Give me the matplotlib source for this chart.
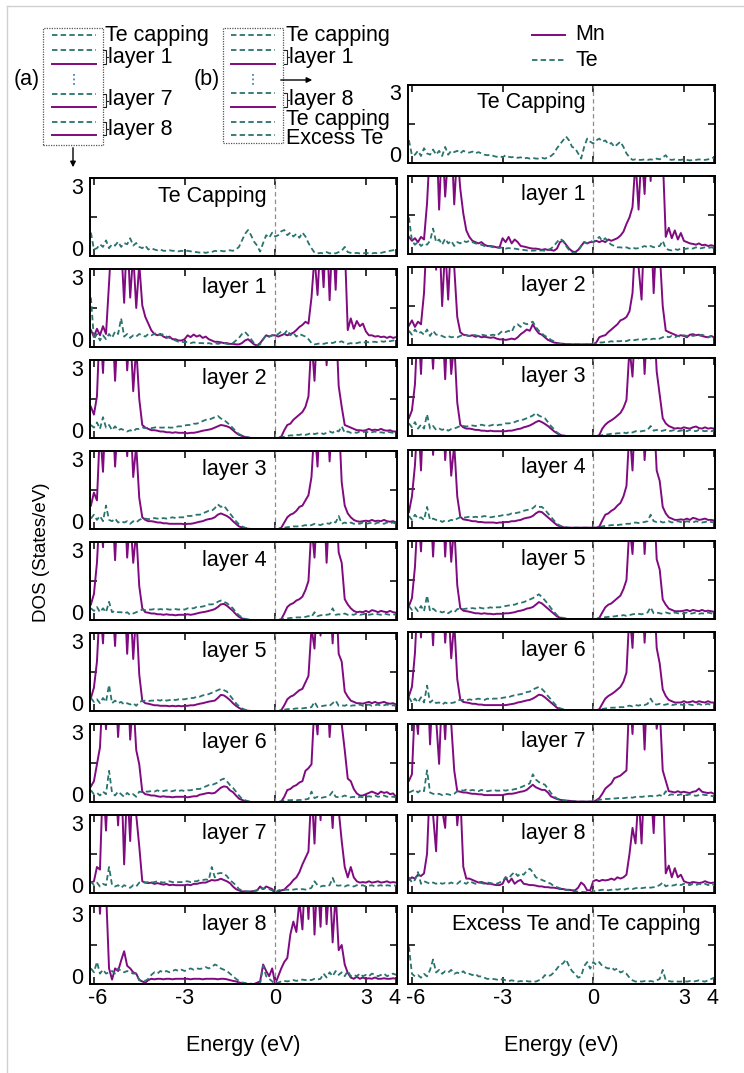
import numpy as np
import matplotlib
matplotlib.use('Agg')
import matplotlib.pyplot as plt
import matplotlib.transforms as mtransforms
from matplotlib.lines import Line2D
from matplotlib.patches import Rectangle, FancyArrowPatch

plt.rcParams['font.family'] = ['Liberation Sans', 'DejaVu Sans']

# ---------------- data (DOS on an energy grid from -6.1 to 4.0 eV, 0.1 eV step) ----------------
E_MIN, E_MAX = -6.1, 4.0
XTICKS = [-6, -3, 0, 3, 4]
XTICKLABELS = ['-6', '-3', '0', '3', '4']
YTICKS = [0, 1.5, 3]
YTICKLABELS = ['0', '', '3']

# ----- column (a) -----
TE_A0 = [0.9, 0.25, 0.3, 0.45, 0.35, 0.6, 0.3, 0.45, 0.4, 0.55,
         0.35, 0.5, 0.45, 0.68, 0.4, 0.5, 0.35, 0.3, 0.4, 0.25,
         0.3, 0.25, 0.22, 0.25, 0.2, 0.2, 0.22, 0.2, 0.2, 0.18,
         0.2, 0.18, 0.2, 0.18, 0.15, 0.15, 0.13, 0.15, 0.12, 0.15,
         0.15, 0.2, 0.18, 0.2, 0.18, 0.2, 0.22, 0.2, 0.25, 0.35,
         0.6, 0.85, 1.0, 0.8, 0.55, 0.4, 0.17, 0.5, 0.8, 0.7,
         0.9, 0.75, 0.8, 0.95, 1.0, 0.8, 0.9, 0.75, 0.85, 0.7,
         0.9, 0.75, 0.5, 0.3, 0.13, 0.1, 0.12, 0.1, 0.15, 0.1,
         0.12, 0.1, 0.15, 0.2, 0.35, 0.15, 0.12, 0.1, 0.12, 0.1,
         0.1, 0.12, 0.1, 0.1, 0.12, 0.1, 0.12, 0.15, 0.18, 0.2,
         0.22, 0.25]

MN_A1 = [0.65, 0.4, 0.7, 0.45, 0.8, 0.5, 2.45, 4.5, 3.2, 5.0,
         4.0, 1.7, 4.5, 1.9, 3.6, 1.5, 3.2, 1.6, 1.16, 0.9,
         0.64, 0.5, 0.45, 0.5, 0.4, 0.35, 0.4, 0.3, 0.3, 0.25,
         0.25, 0.3, 0.45, 0.38, 0.48, 0.4, 0.45, 0.35, 0.4, 0.3,
         0.25, 0.2, 0.2, 0.18, 0.15, 0.15, 0.12, 0.12, 0.1, 0.1,
         0.15, 0.25, 0.3, 0.2, 0.1, 0.06, 0.15, 0.3, 0.45, 0.4,
         0.45, 0.45, 0.4, 0.45, 0.5, 0.45, 0.5, 0.55, 0.65, 0.77,
         0.85, 0.97, 0.9, 1.9, 3.5, 2.0, 4.2, 2.3, 4.8, 1.8,
         4.5, 2.2, 5.0, 3.4, 4.0, 0.65, 1.1, 0.7, 1.0, 0.8,
         0.9, 0.6, 0.45, 0.45, 0.4, 0.42, 0.38, 0.4, 0.35, 0.4,
         0.35, 0.38]
TE_A1 = [1.9, 0.3, 0.5, 0.25, 0.45, 0.3, 0.5, 0.35, 0.6, 0.5,
         1.1, 0.4, 0.5, 0.35, 0.45, 0.4, 0.5, 0.45, 0.4, 0.5,
         0.45, 0.5, 0.55, 0.45, 0.5, 0.4, 0.35, 0.3, 0.25, 0.2,
         0.2, 0.18, 0.2, 0.15, 0.18, 0.15, 0.15, 0.15, 0.12, 0.15,
         0.12, 0.15, 0.12, 0.15, 0.15, 0.12, 0.1, 0.15, 0.25, 0.35,
         0.5, 0.58, 0.45, 0.3, 0.15, 0.06, 0.1, 0.3, 0.45, 0.4,
         0.45, 0.45, 0.5, 0.6, 0.5, 0.65, 0.45, 0.55, 0.4, 0.5,
         0.45, 0.4, 0.3, 0.15, 0.1, 0.12, 0.15, 0.12, 0.15, 0.18,
         0.15, 0.2, 0.18, 0.22, 0.15, 0.12, 0.15, 0.12, 0.15, 0.18,
         0.15, 0.2, 0.18, 0.2, 0.2, 0.18, 0.22, 0.2, 0.25, 0.22,
         0.25, 0.25]

MN_A2 = [1.2, 0.9, 1.6, 4.6, 2.5, 5.0, 3.3, 4.8, 2.2, 4.4,
         3.0, 5.2, 2.6, 4.2, 1.8, 3.5, 1.5, 0.5, 0.4, 0.35,
         0.3, 0.3, 0.28, 0.25, 0.25, 0.22, 0.22, 0.2, 0.22, 0.2,
         0.2, 0.2, 0.18, 0.2, 0.2, 0.22, 0.25, 0.28, 0.3, 0.32,
         0.35, 0.4, 0.45, 0.5, 0.48, 0.45, 0.4, 0.3, 0.2, 0.12,
         0.08, 0.04, 0.02, 0, 0, 0, 0, 0, 0, 0,
         0, 0, 0, 0.05, 0.3, 0.5, 0.55, 0.7, 0.8, 0.9,
         1.0, 1.2, 1.6, 3.8, 2.2, 4.5, 3.0, 5.0, 2.8, 4.6,
         3.2, 4.8, 2.0, 1.2, 0.5, 0.45, 0.4, 0.35, 0.3, 0.3,
         0.28, 0.3, 0.35, 0.3, 0.32, 0.3, 0.35, 0.3, 0.28, 0.3,
         0.25, 0.25]
TE_A2 = [0.5, 0.4, 0.6, 0.35, 0.8, 0.4, 0.5, 0.3, 0.45, 0.3,
         0.35, 0.3, 0.25, 0.3, 0.25, 0.35, 0.35, 0.4, 0.38, 0.4,
         0.38, 0.4, 0.42, 0.4, 0.4, 0.42, 0.4, 0.4, 0.42, 0.45,
         0.45, 0.48, 0.5, 0.5, 0.55, 0.55, 0.6, 0.65, 0.7, 0.7,
         0.75, 0.8, 0.85, 0.75, 0.7, 0.6, 0.5, 0.38, 0.25, 0.15,
         0.1, 0.05, 0.02, 0, 0, 0, 0, 0, 0, 0,
         0, 0, 0, 0.02, 0.05, 0.08, 0.1, 0.1, 0.12, 0.12,
         0.15, 0.12, 0.15, 0.2, 0.15, 0.18, 0.2, 0.15, 0.2, 0.25,
         0.2, 0.3, 0.25, 0.45, 0.2, 0.25, 0.2, 0.22, 0.2, 0.25,
         0.22, 0.25, 0.2, 0.22, 0.25, 0.2, 0.22, 0.2, 0.25, 0.22,
         0.2, 0.22]

MN_A3 = [0.9, 1.4, 1.1, 3.9, 2.2, 4.8, 3.6, 5.0, 2.4, 4.2,
         3.4, 5.0, 2.8, 4.6, 2.0, 3.2, 1.2, 0.45, 0.35, 0.3,
         0.3, 0.28, 0.25, 0.25, 0.22, 0.22, 0.2, 0.2, 0.2, 0.2,
         0.2, 0.18, 0.2, 0.2, 0.22, 0.25, 0.28, 0.3, 0.35, 0.38,
         0.4, 0.45, 0.55, 0.6, 0.55, 0.5, 0.42, 0.3, 0.2, 0.1,
         0.06, 0.03, 0.01, 0, 0, 0, 0, 0, 0, 0,
         0, 0, 0, 0.05, 0.25, 0.45, 0.55, 0.6, 0.7, 0.85,
         0.9, 1.1, 1.3, 2.0, 4.0, 2.4, 4.8, 3.0, 5.0, 2.6,
         4.6, 3.2, 4.4, 1.8, 0.9, 0.6, 0.45, 0.35, 0.3, 0.28,
         0.3, 0.32, 0.3, 0.35, 0.3, 0.32, 0.3, 0.35, 0.3, 0.28,
         0.3, 0.25]
TE_A3 = [0.4, 0.55, 0.35, 0.5, 0.3, 0.9, 0.35, 0.3, 0.4, 0.25,
         0.3, 0.25, 0.3, 0.2, 0.3, 0.25, 0.35, 0.4, 0.4, 0.38,
         0.4, 0.42, 0.4, 0.4, 0.42, 0.4, 0.42, 0.45, 0.42, 0.45,
         0.45, 0.45, 0.5, 0.5, 0.52, 0.55, 0.55, 0.6, 0.65, 0.7,
         0.7, 0.8, 0.95, 0.85, 0.9, 0.75, 0.6, 0.45, 0.3, 0.18,
         0.1, 0.05, 0.02, 0, 0, 0, 0, 0, 0, 0,
         0, 0, 0, 0.02, 0.05, 0.07, 0.08, 0.1, 0.1, 0.1,
         0.12, 0.15, 0.12, 0.15, 0.2, 0.18, 0.15, 0.2, 0.22, 0.2,
         0.3, 0.25, 0.5, 0.2, 0.25, 0.2, 0.25, 0.2, 0.22, 0.2,
         0.25, 0.2, 0.22, 0.25, 0.2, 0.25, 0.22, 0.2, 0.25, 0.22,
         0.25, 0.2]

MN_A4 = [0.6, 1.0, 2.2, 4.4, 2.8, 5.0, 3.0, 4.6, 2.3, 4.8,
         3.6, 5.0, 2.4, 4.0, 2.2, 3.4, 1.3, 0.45, 0.3, 0.28,
         0.25, 0.25, 0.22, 0.22, 0.2, 0.22, 0.2, 0.2, 0.18, 0.2,
         0.2, 0.2, 0.22, 0.2, 0.22, 0.25, 0.28, 0.3, 0.32, 0.35,
         0.38, 0.42, 0.5, 0.6, 0.62, 0.55, 0.45, 0.35, 0.22, 0.12,
         0.06, 0.03, 0.01, 0, 0, 0, 0, 0, 0, 0,
         0, 0, 0, 0.03, 0.25, 0.5, 0.6, 0.65, 0.75, 0.8,
         0.9, 1.15, 1.5, 3.6, 2.4, 4.6, 3.4, 5.0, 2.2, 4.4,
         3.6, 4.8, 2.6, 2.2, 0.8, 0.6, 0.45, 0.35, 0.3, 0.32,
         0.3, 0.35, 0.3, 0.38, 0.35, 0.3, 0.35, 0.32, 0.3, 0.35,
         0.3, 0.28]
TE_A4 = [0.45, 0.35, 0.5, 0.3, 0.45, 0.3, 0.7, 0.3, 0.35, 0.3,
         0.3, 0.25, 0.3, 0.2, 0.25, 0.3, 0.35, 0.4, 0.38, 0.4,
         0.4, 0.42, 0.4, 0.42, 0.4, 0.42, 0.4, 0.4, 0.42, 0.4,
         0.42, 0.4, 0.45, 0.45, 0.45, 0.5, 0.5, 0.52, 0.55, 0.6,
         0.6, 0.62, 0.7, 0.75, 0.7, 0.65, 0.55, 0.45, 0.3, 0.18,
         0.1, 0.05, 0.02, 0, 0, 0, 0, 0, 0, 0,
         0, 0, 0, 0.02, 0.05, 0.06, 0.08, 0.08, 0.1, 0.1,
         0.1, 0.12, 0.15, 0.12, 0.3, 0.15, 0.18, 0.2, 0.2, 0.22,
         0.45, 0.2, 0.22, 0.2, 0.25, 0.2, 0.22, 0.2, 0.25, 0.2,
         0.22, 0.25, 0.2, 0.22, 0.25, 0.22, 0.2, 0.25, 0.22, 0.2,
         0.22, 0.2]

MN_A5 = [0.5, 0.9, 1.9, 4.2, 2.6, 5.0, 3.6, 4.4, 2.5, 5.0,
         3.2, 4.8, 2.2, 4.4, 2.0, 3.8, 1.4, 0.4, 0.3, 0.28,
         0.25, 0.22, 0.22, 0.2, 0.2, 0.2, 0.18, 0.2, 0.18, 0.2,
         0.18, 0.2, 0.2, 0.22, 0.22, 0.25, 0.28, 0.3, 0.33, 0.36,
         0.38, 0.4, 0.5, 0.62, 0.6, 0.52, 0.42, 0.3, 0.2, 0.12,
         0.06, 0.03, 0.01, 0, 0, 0, 0, 0, 0, 0,
         0, 0, 0, 0.03, 0.22, 0.45, 0.55, 0.6, 0.7, 0.8,
         0.85, 1.1, 1.35, 3.2, 2.4, 4.8, 2.9, 5.0, 3.3, 4.6,
         2.6, 4.9, 2.2, 1.9, 0.75, 0.55, 0.4, 0.35, 0.3, 0.3,
         0.28, 0.32, 0.35, 0.3, 0.35, 0.3, 0.32, 0.35, 0.3, 0.28,
         0.3, 0.25]
TE_A5 = [0.5, 0.35, 0.45, 0.3, 0.5, 0.35, 1.0, 0.3, 0.4, 0.3,
         0.35, 0.25, 0.3, 0.25, 0.3, 0.2, 0.35, 0.38, 0.4, 0.38,
         0.4, 0.4, 0.42, 0.4, 0.45, 0.4, 0.42, 0.45, 0.42, 0.45,
         0.45, 0.45, 0.48, 0.5, 0.5, 0.55, 0.55, 0.6, 0.62, 0.65,
         0.7, 0.75, 0.8, 0.85, 0.8, 0.75, 0.6, 0.45, 0.3, 0.18,
         0.1, 0.05, 0.02, 0, 0, 0, 0, 0, 0, 0,
         0, 0, 0, 0.02, 0.05, 0.07, 0.08, 0.08, 0.1, 0.1,
         0.1, 0.12, 0.12, 0.15, 0.35, 0.15, 0.18, 0.2, 0.22, 0.2,
         0.3, 0.4, 0.2, 0.22, 0.2, 0.25, 0.2, 0.22, 0.2, 0.25,
         0.2, 0.22, 0.25, 0.2, 0.22, 0.25, 0.2, 0.22, 0.25, 0.2,
         0.22, 0.2]

MN_A6 = [0.6, 0.8, 1.45, 2.1, 4.5, 2.8, 5.0, 3.4, 4.8, 2.5,
         4.4, 3.0, 5.2, 2.4, 4.0, 2.0, 1.45, 0.4, 0.3, 0.28,
         0.25, 0.25, 0.22, 0.2, 0.22, 0.2, 0.2, 0.18, 0.2, 0.2,
         0.2, 0.2, 0.18, 0.2, 0.22, 0.22, 0.28, 0.3, 0.33, 0.35,
         0.33, 0.35, 0.45, 0.55, 0.6, 0.58, 0.45, 0.38, 0.25, 0.13,
         0.08, 0.04, 0.01, 0, 0, 0, 0, 0, 0, 0,
         0, 0, 0, 0.02, 0.2, 0.46, 0.5, 0.6, 0.65, 0.75,
         0.8, 1.2, 1.3, 1.45, 3.8, 2.6, 4.8, 3.2, 5.0, 2.5,
         4.2, 3.5, 5.0, 3.0, 2.0, 0.9, 0.8, 0.5, 0.33, 0.25,
         0.25, 0.3, 0.35, 0.4, 0.35, 0.3, 0.4, 0.35, 0.38, 0.3,
         0.33, 0.2]
TE_A6 = [0.45, 0.3, 0.35, 0.25, 0.4, 0.3, 1.2, 0.35, 0.25, 0.4,
         0.3, 0.2, 0.35, 0.25, 0.3, 0.2, 0.4, 0.38, 0.4, 0.4,
         0.42, 0.4, 0.45, 0.4, 0.42, 0.45, 0.4, 0.42, 0.45, 0.42,
         0.45, 0.42, 0.45, 0.45, 0.48, 0.5, 0.5, 0.55, 0.6, 0.65,
         0.65, 0.7, 0.75, 0.85, 0.9, 0.8, 0.65, 0.55, 0.4, 0.25,
         0.12, 0.07, 0.03, 0.01, 0, 0, 0, 0, 0, 0,
         0, 0, 0, 0.02, 0.05, 0.07, 0.07, 0.08, 0.07, 0.08,
         0.07, 0.1, 0.12, 0.4, 0.15, 0.2, 0.15, 0.18, 0.2, 0.25,
         0.4, 0.2, 0.18, 0.2, 0.25, 0.2, 0.18, 0.2, 0.15, 0.2,
         0.18, 0.2, 0.22, 0.2, 0.25, 0.2, 0.22, 0.25, 0.2, 0.22,
         0.2, 0.18]

MN_A7 = [0.4, 0.45, 1.0, 0.9, 4.5, 2.4, 5.0, 3.2, 4.6, 2.6,
         4.8, 1.1, 4.2, 2.0, 5.0, 3.0, 1.8, 0.45, 0.4, 0.38,
         0.4, 0.35, 0.38, 0.35, 0.32, 0.35, 0.3, 0.32, 0.3, 0.3,
         0.3, 0.3, 0.32, 0.3, 0.35, 0.35, 0.38, 0.4, 0.4, 0.45,
         0.5, 0.48, 0.5, 0.55, 0.5, 0.45, 0.38, 0.25, 0.15, 0.1,
         0.06, 0.06, 0.05, 0.06, 0.08, 0.1, 0.25, 0.15, 0.25, 0.2,
         0.15, 0, 0.05, 0.1, 0.13, 0.25, 0.35, 0.5, 0.6, 0.8,
         1.1, 1.35, 1.6, 4.0, 1.9, 4.6, 2.8, 5.0, 3.0, 4.2,
         2.5, 4.8, 3.2, 2.0, 1.0, 0.6, 1.0, 0.6, 0.45, 0.4,
         0.42, 0.4, 0.45, 0.4, 0.42, 0.45, 0.4, 0.42, 0.45, 0.4,
         0.42, 0.4]
TE_A7 = [0.45, 0.3, 0.4, 0.25, 0.35, 0.3, 1.0, 0.3, 0.25, 0.3,
         0.2, 0.3, 0.25, 0.2, 0.3, 0.25, 0.4, 0.42, 0.4, 0.42,
         0.4, 0.42, 0.45, 0.42, 0.4, 0.42, 0.45, 0.42, 0.4, 0.42,
         0.42, 0.45, 0.45, 0.42, 0.45, 0.45, 0.5, 0.5, 0.52, 0.5,
         1.0, 0.6, 0.75, 0.77, 0.75, 0.65, 0.5, 0.4, 0.3, 0.15,
         0.1, 0.07, 0.06, 0.06, 0.08, 0.1, 0.2, 0.15, 0.2, 0.15,
         0.1, 0, 0.1, 0.13, 0.12, 0.13, 0.12, 0.13, 0.15, 0.13,
         0.15, 0.13, 0.15, 0.2, 0.45, 0.3, 0.25, 0.28, 0.25, 0.3,
         0.58, 0.3, 0.28, 0.3, 0.25, 0.3, 0.28, 0.25, 0.3, 0.28,
         0.3, 0.25, 0.28, 0.3, 0.25, 0.28, 0.3, 0.25, 0.3, 0.28,
         0.3, 0.28]

MN_A8 = [4.5, 3.5, 5.0, 2.7, 4.8, 3.6, 0.6, 0.17, 0.6, 0.5,
         0.9, 1.26, 0.7, 0.6, 0.45, 0.4, 0.15, 0.1, 0.05, 0.15,
         0.2, 0.18, 0.2, 0.2, 0.18, 0.2, 0.2, 0.18, 0.2, 0.2,
         0.2, 0.2, 0.2, 0.18, 0.2, 0.2, 0.2, 0.18, 0.2, 0.2,
         0.2, 0.2, 0.18, 0.2, 0.2, 0.18, 0.15, 0.12, 0.1, 0.06,
         0.03, 0.01, 0, 0, 0, 0.05, 0.1, 0.75, 0.5, 0.3,
         0.6, 0, 0.3, 0.6, 0.85, 1.0, 1.9, 2.4, 2.0, 3.2,
         2.1, 4.5, 2.5, 5.0, 1.9, 4.2, 2.2, 5.0, 2.3, 4.0,
         1.6, 3.5, 1.3, 1.5, 0.75, 0.43, 0.25, 0.2, 0.28, 0.2,
         0.25, 0.2, 0.22, 0.2, 0.25, 0.2, 0.2, 0.22, 0.2, 0.2,
         0.22, 0.2]
TE_A8 = [0.6, 0.45, 0.85, 0.4, 0.55, 0.4, 0.45, 0.5, 0.4, 0.6,
         0.5, 0.45, 0.5, 0.45, 0.4, 0.4, 0.15, 0.15, 0.12, 0.2,
         0.35, 0.45, 0.4, 0.5, 0.45, 0.5, 0.45, 0.5, 0.55, 0.5,
         0.55, 0.5, 0.55, 0.6, 0.55, 0.6, 0.58, 0.6, 0.65, 0.6,
         0.65, 0.75, 0.7, 0.6, 0.55, 0.5, 0.4, 0.3, 0.2, 0.12,
         0.06, 0.04, 0.02, 0.01, 0, 0, 0.02, 0.7, 0.3, 0.2,
         0.1, 0, 0.05, 0.1, 0.12, 0.1, 0.12, 0.15, 0.12, 0.15,
         0.17, 0.15, 0.17, 0.15, 0.2, 0.17, 0.2, 0.4, 0.25, 0.45,
         0.3, 0.5, 0.35, 0.45, 0.3, 0.5, 0.3, 0.35, 0.3, 0.4,
         0.3, 0.35, 0.3, 0.4, 0.35, 0.3, 0.35, 0.4, 0.3, 0.35,
         0.4, 0.35]

# ----- column (b) -----
TE_B0 = [0.86, 0.28, 0.3, 0.45, 0.25, 0.55, 0.35, 0.3, 0.5, 0.3,
         0.45, 0.25, 0.6, 0.3, 0.45, 0.4, 0.45, 0.35, 0.45, 0.4,
         0.38, 0.42, 0.35, 0.4, 0.35, 0.3, 0.28, 0.3, 0.25, 0.22,
         0.25, 0.2, 0.28, 0.22, 0.2, 0.22, 0.18, 0.2, 0.15, 0.18,
         0.15, 0.18, 0.15, 0.15, 0.18, 0.15, 0.2, 0.25, 0.35, 0.55,
         0.7, 0.85, 1.0, 0.85, 0.6, 0.55, 0.35, 0.15, 0.6, 0.92,
         0.8, 0.73, 0.85, 0.92, 0.8, 0.85, 0.7, 0.75, 0.6, 0.7,
         0.8, 0.6, 0.35, 0.2, 0.1, 0.12, 0.1, 0.1, 0.12, 0.1,
         0.12, 0.1, 0.15, 0.12, 0.2, 0.28, 0.12, 0.1, 0.12, 0.1,
         0.1, 0.12, 0.1, 0.08, 0.1, 0.1, 0.12, 0.1, 0.1, 0.12,
         0.15, 0.2]

MN_B1 = [0.65, 0.5, 0.6, 0.45, 0.65, 0.55, 1.94, 4.2, 3.0, 5.0,
         1.7, 4.5, 2.2, 3.8, 4.6, 1.9, 4.0, 2.5, 1.55, 0.9,
         0.65, 0.5, 0.45, 0.4, 0.45, 0.35, 0.3, 0.3, 0.28, 0.25,
         0.25, 0.6, 0.45, 0.65, 0.4, 0.55, 0.45, 0.3, 0.28, 0.25,
         0.22, 0.2, 0.2, 0.18, 0.15, 0.18, 0.15, 0.15, 0.12, 0.2,
         0.45, 0.5, 0.35, 0.2, 0.1, 0.06, 0.15, 0.3, 0.45, 0.4,
         0.45, 0.45, 0.5, 0.45, 0.5, 0.45, 0.55, 0.5, 0.55, 0.6,
         0.7, 0.85, 1.15, 1.4, 1.8, 3.6, 1.7, 4.0, 2.3, 4.8,
         2.8, 5.0, 3.2, 4.5, 3.8, 0.65, 1.0, 0.6, 0.9, 0.55,
         0.8, 0.5, 0.45, 0.4, 0.38, 0.35, 0.4, 0.33, 0.35, 0.3,
         0.33, 0.3]
TE_B1 = [1.4, 0.5, 0.35, 0.45, 0.3, 0.4, 0.35, 0.5, 0.97, 0.45,
         0.55, 0.35, 0.58, 0.4, 0.5, 0.3, 0.45, 0.4, 0.5, 0.45,
         0.5, 0.45, 0.4, 0.38, 0.35, 0.3, 0.3, 0.28, 0.25, 0.25,
         0.22, 0.25, 0.2, 0.22, 0.2, 0.2, 0.18, 0.15, 0.15, 0.13,
         0.13, 0.12, 0.13, 0.12, 0.13, 0.12, 0.15, 0.2, 0.3, 0.45,
         0.58, 0.5, 0.3, 0.15, 0.05, 0.02, 0.1, 0.3, 0.45, 0.4,
         0.5, 0.45, 0.55, 0.65, 0.5, 0.6, 0.45, 0.35, 0.3, 0.25,
         0.25, 0.22, 0.25, 0.2, 0.25, 0.2, 0.22, 0.25, 0.3, 0.25,
         0.3, 0.25, 0.28, 0.3, 0.5, 0.2, 0.15, 0.13, 0.18, 0.15,
         0.2, 0.18, 0.2, 0.22, 0.2, 0.25, 0.2, 0.22, 0.25, 0.22,
         0.25, 0.22]

MN_B2 = [0.75, 0.95, 0.7, 0.9, 0.8, 2.0, 4.5, 3.2, 5.0, 2.9,
         4.6, 1.5, 3.8, 1.75, 4.2, 3.0, 1.08, 0.5, 0.4, 0.38,
         0.35, 0.38, 0.32, 0.35, 0.3, 0.32, 0.3, 0.28, 0.3, 0.25,
         0.22, 0.22, 0.2, 0.22, 0.25, 0.22, 0.3, 0.42, 0.5, 0.6,
         0.55, 0.8, 0.6, 0.45, 0.4, 0.3, 0.2, 0.15, 0.1, 0.08,
         0.06, 0.05, 0.04, 0.04, 0.03, 0.03, 0.03, 0.03, 0.02, 0.03,
         0.03, 0.03, 0.1, 0.3, 0.35, 0.38, 0.5, 0.6, 0.7, 0.8,
         0.95, 1.0, 1.08, 1.3, 2.0, 4.2, 3.0, 1.75, 4.8, 3.5,
         5.0, 2.0, 4.4, 3.6, 1.5, 0.56, 0.5, 0.45, 0.4, 0.35,
         0.38, 0.35, 0.3, 0.4, 0.42, 0.38, 0.4, 0.35, 0.32, 0.3,
         0.35, 0.3]
TE_B2 = [0.55, 0.4, 0.6, 0.45, 0.5, 0.4, 0.6, 0.35, 0.55, 0.4,
         0.4, 0.35, 0.3, 0.35, 0.3, 0.32, 0.3, 0.35, 0.4, 0.38,
         0.35, 0.4, 0.38, 0.35, 0.4, 0.38, 0.35, 0.38, 0.4, 0.35,
         0.45, 0.55, 0.5, 0.55, 0.5, 0.75, 0.8, 0.7, 0.85, 0.8,
         0.85, 0.9, 0.7, 0.55, 0.45, 0.35, 0.3, 0.2, 0.15, 0.08,
         0.05, 0.05, 0.04, 0.04, 0.03, 0.03, 0.03, 0.03, 0.03, 0.03,
         0.03, 0.03, 0.08, 0.1, 0.1, 0.12, 0.12, 0.15, 0.12, 0.15,
         0.15, 0.18, 0.15, 0.2, 0.18, 0.2, 0.22, 0.2, 0.22, 0.25,
         0.22, 0.25, 0.22, 0.25, 0.3, 0.35, 0.3, 0.35, 0.3, 0.35,
         0.32, 0.38, 0.35, 0.4, 0.35, 0.38, 0.35, 0.4, 0.35, 0.3,
         0.35, 0.3]

MN_B3 = [0.7, 1.0, 2.0, 4.6, 2.4, 5.0, 3.4, 4.4, 2.6, 5.0,
         3.0, 4.6, 2.2, 4.8, 2.4, 3.6, 1.3, 0.45, 0.35, 0.3,
         0.3, 0.28, 0.25, 0.25, 0.22, 0.22, 0.2, 0.22, 0.2, 0.2,
         0.2, 0.2, 0.2, 0.22, 0.22, 0.25, 0.28, 0.3, 0.35, 0.38,
         0.42, 0.48, 0.55, 0.6, 0.55, 0.48, 0.4, 0.3, 0.2, 0.12,
         0.06, 0.03, 0.01, 0, 0, 0, 0, 0, 0, 0,
         0, 0, 0, 0.05, 0.3, 0.45, 0.55, 0.62, 0.7, 0.8,
         0.9, 1.1, 1.4, 3.4, 2.3, 4.6, 3.0, 5.0, 2.4, 4.5,
         3.0, 4.8, 2.5, 1.6, 0.7, 0.5, 0.4, 0.35, 0.3, 0.32,
         0.3, 0.35, 0.32, 0.3, 0.35, 0.38, 0.32, 0.3, 0.35, 0.3,
         0.32, 0.3]
TE_B3 = [0.5, 0.35, 0.55, 0.3, 0.45, 0.3, 0.85, 0.3, 0.4, 0.25,
         0.3, 0.25, 0.3, 0.22, 0.28, 0.3, 0.35, 0.4, 0.4, 0.38,
         0.4, 0.42, 0.4, 0.42, 0.45, 0.42, 0.4, 0.42, 0.45, 0.42,
         0.45, 0.45, 0.5, 0.5, 0.52, 0.55, 0.6, 0.62, 0.65, 0.7,
         0.75, 0.8, 0.9, 0.8, 0.75, 0.7, 0.55, 0.4, 0.28, 0.15,
         0.08, 0.04, 0.02, 0, 0, 0, 0, 0, 0, 0,
         0, 0, 0, 0.02, 0.05, 0.07, 0.08, 0.1, 0.1, 0.12,
         0.12, 0.15, 0.12, 0.18, 0.15, 0.2, 0.18, 0.2, 0.22, 0.25,
         0.4, 0.22, 0.25, 0.2, 0.22, 0.25, 0.2, 0.22, 0.25, 0.2,
         0.22, 0.25, 0.2, 0.25, 0.22, 0.2, 0.25, 0.22, 0.2, 0.22,
         0.2, 0.22]

MN_B4 = [0.6, 1.2, 2.4, 4.4, 2.2, 5.0, 3.2, 4.6, 2.8, 4.8,
         3.4, 5.0, 2.6, 4.2, 2.0, 3.2, 1.2, 0.42, 0.32, 0.3,
         0.28, 0.25, 0.25, 0.22, 0.22, 0.2, 0.2, 0.2, 0.2, 0.18,
         0.2, 0.2, 0.22, 0.22, 0.25, 0.25, 0.28, 0.3, 0.35, 0.38,
         0.4, 0.45, 0.55, 0.62, 0.6, 0.5, 0.4, 0.3, 0.2, 0.1,
         0.05, 0.02, 0, 0, 0, 0, 0, 0, 0, 0,
         0, 0, 0, 0.04, 0.28, 0.5, 0.55, 0.65, 0.72, 0.85,
         0.95, 1.2, 1.6, 3.8, 2.2, 4.8, 3.2, 5.0, 2.6, 4.2,
         3.4, 4.6, 2.2, 1.8, 0.8, 0.55, 0.4, 0.35, 0.3, 0.3,
         0.32, 0.3, 0.35, 0.3, 0.38, 0.35, 0.3, 0.32, 0.35, 0.3,
         0.3, 0.28]
TE_B4 = [0.45, 0.3, 0.5, 0.35, 0.4, 0.3, 0.8, 0.3, 0.35, 0.3,
         0.3, 0.22, 0.28, 0.25, 0.3, 0.28, 0.35, 0.4, 0.38, 0.4,
         0.42, 0.4, 0.42, 0.4, 0.42, 0.45, 0.42, 0.4, 0.42, 0.45,
         0.45, 0.48, 0.5, 0.5, 0.55, 0.55, 0.58, 0.6, 0.65, 0.68,
         0.7, 0.75, 0.85, 0.8, 0.8, 0.7, 0.55, 0.42, 0.28, 0.15,
         0.08, 0.04, 0.02, 0, 0, 0, 0, 0, 0, 0,
         0, 0, 0, 0.02, 0.05, 0.07, 0.08, 0.1, 0.1, 0.1,
         0.12, 0.12, 0.15, 0.15, 0.18, 0.2, 0.18, 0.2, 0.22, 0.25,
         0.5, 0.25, 0.22, 0.25, 0.2, 0.22, 0.25, 0.2, 0.22, 0.25,
         0.22, 0.2, 0.25, 0.22, 0.2, 0.25, 0.22, 0.2, 0.22, 0.25,
         0.22, 0.2]

MN_B5 = [0.5, 0.8, 2.0, 4.2, 2.6, 5.0, 3.8, 4.8, 2.4, 4.6,
         3.0, 5.0, 2.4, 4.4, 2.2, 3.6, 1.3, 0.42, 0.32, 0.3,
         0.28, 0.25, 0.22, 0.22, 0.2, 0.22, 0.2, 0.2, 0.18, 0.2,
         0.2, 0.2, 0.22, 0.22, 0.24, 0.26, 0.3, 0.32, 0.35, 0.4,
         0.42, 0.46, 0.55, 0.65, 0.6, 0.5, 0.4, 0.3, 0.2, 0.1,
         0.05, 0.02, 0, 0, 0, 0, 0, 0, 0, 0,
         0, 0, 0, 0.04, 0.25, 0.45, 0.55, 0.6, 0.7, 0.8,
         0.9, 1.15, 1.5, 3.6, 2.5, 4.6, 3.3, 5.0, 2.5, 4.4,
         3.2, 4.8, 2.3, 1.9, 0.75, 0.55, 0.4, 0.35, 0.3, 0.3,
         0.3, 0.32, 0.35, 0.3, 0.35, 0.32, 0.3, 0.35, 0.3, 0.32,
         0.3, 0.28]
TE_B5 = [0.5, 0.35, 0.45, 0.3, 0.5, 0.3, 0.9, 0.3, 0.4, 0.3,
         0.3, 0.25, 0.3, 0.22, 0.3, 0.25, 0.38, 0.4, 0.38, 0.4,
         0.4, 0.42, 0.4, 0.45, 0.42, 0.4, 0.42, 0.45, 0.42, 0.45,
         0.45, 0.48, 0.5, 0.52, 0.55, 0.55, 0.6, 0.62, 0.65, 0.7,
         0.75, 0.8, 0.88, 0.95, 0.85, 0.72, 0.58, 0.42, 0.28, 0.15,
         0.08, 0.04, 0.02, 0, 0, 0, 0, 0, 0, 0,
         0, 0, 0, 0.02, 0.05, 0.07, 0.08, 0.1, 0.1, 0.12,
         0.12, 0.15, 0.12, 0.15, 0.18, 0.2, 0.2, 0.18, 0.22, 0.25,
         0.45, 0.22, 0.25, 0.22, 0.2, 0.25, 0.22, 0.2, 0.25, 0.22,
         0.2, 0.22, 0.25, 0.2, 0.22, 0.25, 0.2, 0.22, 0.2, 0.25,
         0.22, 0.2]

MN_B6 = [0.55, 0.9, 2.2, 4.6, 2.8, 5.0, 3.0, 4.6, 2.5, 5.0,
         3.2, 4.8, 2.6, 4.2, 2.0, 3.4, 1.2, 0.42, 0.32, 0.3,
         0.28, 0.25, 0.25, 0.22, 0.22, 0.2, 0.2, 0.2, 0.2, 0.2,
         0.2, 0.2, 0.2, 0.22, 0.24, 0.26, 0.3, 0.32, 0.35, 0.38,
         0.4, 0.45, 0.52, 0.6, 0.58, 0.5, 0.4, 0.3, 0.2, 0.1,
         0.05, 0.02, 0, 0, 0, 0, 0, 0, 0, 0,
         0, 0, 0, 0.04, 0.25, 0.45, 0.55, 0.62, 0.7, 0.8,
         0.9, 1.1, 1.45, 3.8, 2.4, 4.8, 3.0, 5.0, 2.6, 4.5,
         3.0, 4.9, 2.4, 1.8, 0.8, 0.55, 0.4, 0.35, 0.3, 0.3,
         0.3, 0.35, 0.3, 0.32, 0.35, 0.3, 0.35, 0.32, 0.3, 0.35,
         0.3, 0.3]
TE_B6 = [0.5, 0.3, 0.45, 0.3, 0.5, 0.3, 0.95, 0.3, 0.4, 0.28,
         0.3, 0.22, 0.3, 0.25, 0.28, 0.3, 0.38, 0.4, 0.4, 0.38,
         0.42, 0.4, 0.42, 0.45, 0.42, 0.4, 0.45, 0.42, 0.45, 0.45,
         0.45, 0.48, 0.5, 0.5, 0.55, 0.58, 0.6, 0.62, 0.65, 0.7,
         0.72, 0.8, 0.85, 0.9, 0.82, 0.7, 0.55, 0.42, 0.28, 0.15,
         0.08, 0.04, 0.02, 0, 0, 0, 0, 0, 0, 0,
         0, 0, 0, 0.02, 0.05, 0.07, 0.08, 0.1, 0.1, 0.12,
         0.12, 0.12, 0.15, 0.18, 0.15, 0.2, 0.18, 0.22, 0.2, 0.25,
         0.45, 0.25, 0.22, 0.25, 0.2, 0.22, 0.25, 0.2, 0.22, 0.25,
         0.22, 0.2, 0.25, 0.22, 0.2, 0.22, 0.25, 0.2, 0.22, 0.25,
         0.2, 0.22]

MN_B7 = [0.8, 1.05, 3.8, 2.6, 4.8, 3.0, 5.0, 2.2, 4.6, 3.2,
         1.45, 4.4, 2.4, 4.8, 3.0, 1.2, 0.4, 0.38, 0.35, 0.35,
         0.32, 0.3, 0.3, 0.28, 0.28, 0.25, 0.25, 0.25, 0.25, 0.25,
         0.25, 0.25, 0.28, 0.3, 0.3, 0.32, 0.35, 0.38, 0.4, 0.45,
         0.55, 0.65, 0.55, 0.5, 0.45, 0.45, 0.35, 0.2, 0.15, 0.1,
         0.07, 0.05, 0.04, 0.03, 0.02, 0.01, 0, 0, 0, 0,
         0, 0, 0.05, 0.13, 0.3, 0.5, 0.6, 0.7, 0.9, 0.95,
         1.0, 1.1, 1.2, 4.2, 2.6, 5.0, 3.0, 4.6, 2.0, 4.8,
         3.0, 4.4, 2.8, 3.6, 1.2, 0.8, 0.4, 0.38, 0.35, 0.4,
         0.35, 0.38, 0.35, 0.33, 0.38, 0.4, 0.5, 0.38, 0.35, 0.33,
         0.35, 0.3]
TE_B7 = [0.35, 0.4, 0.46, 0.35, 0.45, 0.4, 1.2, 0.35, 0.3, 0.28,
         0.3, 0.25, 0.3, 0.28, 0.25, 0.3, 0.4, 0.45, 0.42, 0.46,
         0.42, 0.45, 0.42, 0.4, 0.45, 0.42, 0.4, 0.42, 0.45, 0.42,
         0.42, 0.45, 0.42, 0.45, 0.45, 0.48, 0.5, 0.55, 0.6, 0.65,
         0.7, 1.05, 0.85, 0.75, 0.7, 0.65, 0.5, 0.33, 0.2, 0.12,
         0.08, 0.05, 0.03, 0.02, 0.01, 0, 0, 0, 0, 0,
         0, 0, 0.03, 0.07, 0.08, 0.1, 0.1, 0.12, 0.12, 0.13,
         0.15, 0.13, 0.15, 0.17, 0.15, 0.18, 0.2, 0.18, 0.2, 0.2,
         0.22, 0.2, 0.22, 0.25, 0.2, 0.4, 0.25, 0.28, 0.25, 0.25,
         0.28, 0.25, 0.25, 0.28, 0.25, 0.22, 0.25, 0.28, 0.25, 0.25,
         0.22, 0.2]

MN_B8 = [0.5, 0.6, 0.55, 0.7, 0.65, 0.75, 1.5, 4.4, 3.0, 1.6,
         4.8, 3.2, 2.5, 5.0, 3.6, 4.6, 2.6, 3.8, 1.0, 0.55,
         0.55, 0.5, 0.45, 0.4, 0.42, 0.38, 0.35, 0.35, 0.32, 0.3,
         0.3, 0.35, 0.6, 0.4, 0.55, 0.35, 0.45, 0.5, 0.35, 0.33,
         0.3, 0.3, 0.28, 0.25, 0.25, 0.22, 0.22, 0.2, 0.2, 0.18,
         0.15, 0.15, 0.12, 0.12, 0.1, 0.1, 0.2, 0.4, 0.3, 0.1,
         0.1, 0.45, 0.5, 0.45, 0.5, 0.48, 0.5, 0.55, 0.5, 0.6,
         0.55, 0.6, 0.7, 1.5, 2.5, 1.9, 3.8, 1.9, 4.6, 3.0,
         4.2, 2.3, 5.0, 3.4, 4.5, 0.75, 1.05, 0.6, 0.95, 0.6,
         0.7, 0.45, 0.4, 0.38, 0.42, 0.4, 0.38, 0.4, 0.45, 0.4,
         0.38, 0.4]
TE_B8 = [0.6, 0.4, 0.5, 0.8, 0.35, 0.45, 0.4, 0.35, 0.4, 0.35,
         0.4, 0.35, 0.38, 0.35, 0.4, 0.35, 0.35, 0.45, 0.4, 0.35,
         0.45, 0.4, 0.35, 0.4, 0.38, 0.35, 0.4, 0.38, 0.35, 0.35,
         0.4, 0.45, 0.6, 0.55, 0.7, 0.8, 0.65, 0.75, 0.7, 0.85,
         0.93, 0.8, 0.6, 0.55, 0.5, 0.45, 0.4, 0.35, 0.25, 0.22,
         0.18, 0.15, 0.12, 0.1, 0.08, 0.06, 0.05, 0.04, 0.03, 0.03,
         0.03, 0.05, 0.1, 0.1, 0.12, 0.12, 0.1, 0.12, 0.15, 0.12,
         0.15, 0.12, 0.15, 0.18, 0.15, 0.18, 0.2, 0.18, 0.2, 0.22,
         0.2, 0.22, 0.25, 0.3, 0.4, 0.25, 0.3, 0.28, 0.3, 0.35,
         0.3, 0.35, 0.32, 0.3, 0.35, 0.3, 0.35, 0.32, 0.35, 0.3,
         0.35, 0.3]

TE_B9 = [1.45, 0.4, 0.3, 0.35, 0.25, 0.4, 0.3, 0.55, 0.95, 0.45,
         0.55, 0.4, 0.5, 0.45, 0.55, 0.4, 0.45, 0.4, 0.5, 0.38,
         0.4, 0.35, 0.4, 0.3, 0.3, 0.25, 0.2, 0.22, 0.2, 0.18,
         0.15, 0.2, 0.15, 0.12, 0.15, 0.12, 0.1, 0.12, 0.1, 0.12,
         0.1, 0.12, 0.1, 0.15, 0.2, 0.35, 0.3, 0.35, 0.45, 0.6,
         0.75, 0.8, 0.95, 0.7, 0.5, 0.4, 0.25, 0.3, 0.7, 0.85,
         0.6, 0.85, 0.75, 0.85, 0.7, 0.65, 0.6, 0.65, 0.55, 0.6,
         0.45, 0.5, 0.4, 0.25, 0.15, 0.1, 0.12, 0.1, 0.12, 0.1,
         0.12, 0.1, 0.15, 0.2, 0.55, 0.15, 0.12, 0.1, 0.12, 0.1,
         0.1, 0.12, 0.1, 0.12, 0.1, 0.12, 0.15, 0.12, 0.1, 0.15,
         0.2, 0.25]

LEFT_TITLES = ['Te Capping', 'layer 1', 'layer 2', 'layer 3', 'layer 4',
               'layer 5', 'layer 6', 'layer 7', 'layer 8']
RIGHT_TITLES = ['Te Capping', 'layer 1', 'layer 2', 'layer 3', 'layer 4',
                'layer 5', 'layer 6', 'layer 7', 'layer 8',
                'Excess Te and Te capping']
LEFT_MN = [None, MN_A1, MN_A2, MN_A3, MN_A4, MN_A5, MN_A6, MN_A7, MN_A8]
LEFT_TE = [TE_A0, TE_A1, TE_A2, TE_A3, TE_A4, TE_A5, TE_A6, TE_A7, TE_A8]
RIGHT_MN = [None, MN_B1, MN_B2, MN_B3, MN_B4, MN_B5, MN_B6, MN_B7, MN_B8, None]
RIGHT_TE = [TE_B0, TE_B1, TE_B2, TE_B3, TE_B4, TE_B5, TE_B6, TE_B7, TE_B8, TE_B9]

# ---------------- style ----------------
MN_COLOR = '#800a80'
TE_COLOR = '#2a746e'
TE_DASH = (0, (3.0, 1.8))
FS = 15.5

W, H = 744, 1073
fig = plt.figure(figsize=(W / 100, H / 100), dpi=100)


def fx(x):
    return x / W


def fy(y):
    return 1 - y / H


def px_axes(x0, y0, w, h):
    return fig.add_axes([x0 / W, 1 - (y0 + h) / H, w / W, h / H])


def draw_panel(ax, mn, te, title, show_y, show_x, title_x):
    if mn is not None:
        e = np.linspace(E_MIN, E_MAX, len(mn))
        ax.plot(e, mn, color=MN_COLOR, lw=1.4)
    e = np.linspace(E_MIN, E_MAX, len(te))
    ax.plot(e, te, color=TE_COLOR, lw=1.3, ls=TE_DASH)
    ax.axvline(0, color='#8c8c8c', lw=0.9, ls=(0, (3.5, 2.5)))
    ax.set_xlim(-6.13, 4.03)
    ax.set_ylim(0, 3)
    ax.set_xticks(XTICKS)
    ax.set_yticks(YTICKS)
    ax.tick_params(direction='in', top=True, right=True, length=5, width=1.1,
                   labelsize=FS)
    ax.tick_params(axis='y', pad=5)
    ax.tick_params(axis='x', pad=3)
    if show_y:
        labs = ax.set_yticklabels(YTICKLABELS)
        labs[0].set_va('baseline')
        labs[2].set_va('top')
    else:
        ax.tick_params(labelleft=False)
    if show_x:
        labs = ax.set_xticklabels(XTICKLABELS)
        shift_r = mtransforms.ScaledTranslation(4 / 100, 0, fig.dpi_scale_trans)
        shift_l = mtransforms.ScaledTranslation(-2 / 100, 0, fig.dpi_scale_trans)
        labs[0].set_transform(labs[0].get_transform() + shift_r)
        labs[-1].set_transform(labs[-1].get_transform() + shift_l)
    else:
        ax.tick_params(labelbottom=False)
    for s in ax.spines.values():
        s.set_linewidth(1.4)
    ax.text(title_x, 2.7, title, ha='right', va='top', fontsize=FS)


AXW, AXH = 307, 78
for k in range(9):
    ax = px_axes(90, 178 + 91.0 * k, AXW, AXH)
    draw_panel(ax, LEFT_MN[k], LEFT_TE[k], LEFT_TITLES[k], True, k == 8, -0.3)
for k in range(10):
    ax = px_axes(408, 84.5 + 91.3 * k, AXW, AXH)
    tx = 3.55 if k == 9 else -0.25
    draw_panel(ax, RIGHT_MN[k], RIGHT_TE[k], RIGHT_TITLES[k], k == 0, k == 9, tx)

# axis labels
fig.text(fx(41), fy(552), 'DOS (States/eV)', rotation=90, ha='center', va='center', fontsize=13.5)
fig.text(fx(243), fy(1045), 'Energy (eV)', ha='center', va='center', fontsize=FS)
fig.text(fx(561), fy(1045), 'Energy (eV)', ha='center', va='center', fontsize=FS)

# light image frame
fig.add_artist(Line2D([fx(7), fx(744)], [fy(6), fy(6)], color='#d0d0d0', lw=1.0))
fig.add_artist(Line2D([fx(7), fx(7)], [fy(6), fy(1073)], color='#d0d0d0', lw=1.0))

# top legend
fig.add_artist(Line2D([fx(532), fx(565)], [fy(35), fy(35)], color=MN_COLOR, lw=1.4))
fig.add_artist(Line2D([fx(532), fx(565)], [fy(60), fy(60)], color=TE_COLOR, lw=1.3, ls=TE_DASH))
fig.text(fx(575), fy(35), 'Mn', ha='left', va='center', fontsize=FS)
fig.text(fx(575), fy(60), 'Te', ha='left', va='center', fontsize=FS)


def brace(x, y0, y1):
    xs = [fx(x), fx(x + 3), fx(x + 3), fx(x)]
    ys = [fy(y0), fy(y0), fy(y1), fy(y1)]
    fig.add_artist(Line2D(xs, ys, color='#222222', lw=0.8))
    ym = (y0 + y1) / 2
    fig.add_artist(Line2D([fx(x + 3), fx(x + 5)], [fy(ym), fy(ym)], color='#222222', lw=0.8))


def schematic(bx0, bx1, by0, by1, lx0, lx1, rows, texts, braces):
    fig.add_artist(Rectangle((fx(bx0), fy(by1)), fx(bx1) - fx(bx0), fy(by0) - fy(by1),
                             fill=False, ec='#555555', lw=0.9, ls=(0, (1, 1))))
    for y, kind in rows:
        if kind == 'mn':
            fig.add_artist(Line2D([fx(lx0), fx(lx1)], [fy(y), fy(y)], color=MN_COLOR, lw=1.4))
        else:
            fig.add_artist(Line2D([fx(lx0), fx(lx1)], [fy(y), fy(y)], color=TE_COLOR, lw=1.3,
                                  ls=TE_DASH))
    xm = (lx0 + lx1) / 2
    fig.add_artist(Line2D([fx(xm), fx(xm)], [fy(74), fy(86)], color='#4a86b8', lw=1.3,
                          ls=(0, (1, 1.5))))
    for x, y, s in texts:
        fig.text(fx(x), fy(y), s, ha='left', va='center', fontsize=FS)
    for x, y0, y1 in braces:
        brace(x, y0, y1)


schematic(43, 103, 28, 145, 52, 96,
          [(35, 'te'), (50, 'te'), (64, 'mn'), (94, 'te'), (107, 'mn'), (122, 'te'), (135, 'mn')],
          [(105, 35, 'Te capping'), (108, 57, 'layer 1'), (108, 100, 'layer 7'),
           (108, 129, 'layer 8')],
          [(103, 50, 64), (103, 94, 107), (103, 122, 135)])
schematic(223, 283, 28, 143, 231, 275,
          [(35, 'te'), (50, 'te'), (64, 'mn'), (93, 'te'), (107, 'mn'), (122, 'te'), (135, 'te')],
          [(286, 35, 'Te capping'), (289, 57, 'layer 1'), (289, 100, 'layer 8'),
           (286, 119, 'Te capping'), (286, 139, 'Excess Te')],
          [(284, 50, 64), (284, 93, 107)])

fig.text(fx(27), fy(80), '(a)', ha='center', va='center', fontsize=FS)
fig.text(fx(207), fy(80), '(b)', ha='center', va='center', fontsize=FS)

fig.add_artist(FancyArrowPatch((fx(73), fy(145)), (fx(73), fy(170)),
                               transform=fig.transFigure, arrowstyle='-|>', mutation_scale=8,
                               color='black', lw=1.0))
fig.add_artist(FancyArrowPatch((fx(278), fy(80)), (fx(315), fy(80)),
                               transform=fig.transFigure, arrowstyle='-|>', mutation_scale=8,
                               color='black', lw=1.0))

fig.savefig('out.png', dpi=100)
